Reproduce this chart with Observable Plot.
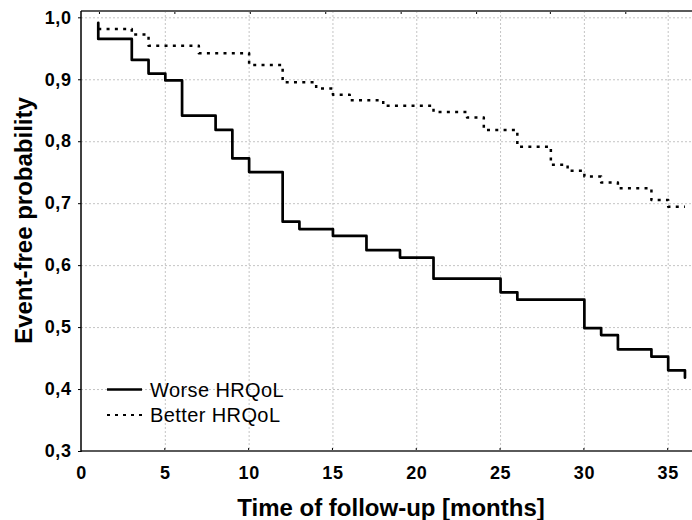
<!DOCTYPE html>
<html><head><meta charset="utf-8">
<script src="https://cdn.jsdelivr.net/npm/d3@7"></script>
<script src="https://cdn.jsdelivr.net/npm/@observablehq/plot@0.6"></script>
<style>
html,body{margin:0;padding:0;background:#fff}
#chart svg{display:block}
</style>
</head><body><div id="chart"></div>
<script>
// ---- data ----
const worseTime  = [1, 1, 3, 4, 5, 6, 8, 9, 10, 12, 13, 15, 17, 19, 21, 25, 26, 30, 31, 32, 34, 35, 36];
const worseProb  = [0.992, 0.966, 0.932, 0.910, 0.899, 0.842, 0.819, 0.773, 0.751, 0.671, 0.659, 0.648, 0.625, 0.613, 0.579, 0.557, 0.545, 0.499, 0.488, 0.465, 0.453, 0.431, 0.419];
const betterTime = [1, 3, 4, 7, 10, 12, 14, 15, 16, 18, 21, 23, 24, 26, 28, 29, 30, 31, 32, 34, 35, 36];
const betterProb = [0.982, 0.973, 0.955, 0.943, 0.924, 0.896, 0.886, 0.876, 0.867, 0.858, 0.848, 0.839, 0.819, 0.792, 0.763, 0.753, 0.744, 0.734, 0.725, 0.706, 0.695, 0.695];
const seriesNames = ["Worse HRQoL", "Better HRQoL"];
const xTicks = [0, 5, 10, 15, 20, 25, 30, 35];
const yTicks = [0.3, 0.4, 0.5, 0.6, 0.7, 0.8, 0.9, 1.0];
const topTicks = [1.1, 5.6, 10.1, 14.6, 19.1, 23.6, 28.0, 32.5];
const xTitle = "Time of follow-up [months]";
const yTitle = "Event-free probability";

const worse = worseTime.map((t, i) => ({t, p: worseProb[i]}));
const better = betterTime.map((t, i) => ({t, p: betterProb[i]}));

const FONT = "'Liberation Sans', Arial, sans-serif";

function frameMark(index, scales, values, dims) {
  const {width, height, marginLeft, marginTop, marginBottom} = dims;
  const g = d3.create("svg:g");
  const yb = height - marginBottom, yt = marginTop;
  for (const v of xTicks.slice(1)) {
    const x = scales.x(v);
    g.append("line").attr("x1", x).attr("x2", x).attr("y1", yb).attr("y2", yb - 3).attr("stroke", "#000").attr("stroke-width", 1);
  }
  for (const v of topTicks) {
    const x = scales.x(v);
    g.append("line").attr("x1", x).attr("x2", x).attr("y1", yt).attr("y2", yt + 3).attr("stroke", "#000").attr("stroke-width", 1);
  }
  g.append("line").attr("x1", marginLeft).attr("x2", width).attr("y1", yt).attr("y2", yt).attr("stroke", "#5a5a5a").attr("stroke-width", 2);
  g.append("line").attr("x1", marginLeft).attr("x2", width).attr("y1", yb).attr("y2", yb).attr("stroke", "#5a5a5a").attr("stroke-width", 2);
  g.append("line").attr("x1", marginLeft).attr("x2", marginLeft).attr("y1", yt).attr("y2", yb + 1).attr("stroke", "#000").attr("stroke-width", 1.5);
  return g.node();
}

function legendMark(index, scales, values, dims) {
  const g = d3.create("svg:g");
  const x0 = dims.marginLeft + 26, x1 = dims.marginLeft + 61, xt = dims.marginLeft + 69;
  seriesNames.forEach((name, i) => {
    const y = 389.5 + i * 25.5;
    g.append("line").attr("x1", x0).attr("x2", x1).attr("y1", y).attr("y2", y)
      .attr("stroke", "#000").attr("stroke-width", i === 0 ? 2.5 : 2)
      .attr("stroke-dasharray", i === 0 ? null : "3,5");
    g.append("text").attr("x", xt).attr("y", y).attr("dy", "0.36em")
      .attr("text-anchor", "start")
      .attr("font-size", 20).attr("font-family", FONT).attr("fill", "#000")
      .style("letter-spacing", "0.4px")
      .text(name);
  });
  return g.node();
}

const plot = Plot.plot({
  width: 692, height: 520,
  marginLeft: 81, marginRight: 0, marginTop: 11, marginBottom: 69,
  x: {domain: [0, 36.45]},
  y: {domain: [0.3, 1.0102]},
  style: {fontFamily: FONT, background: "#fff", color: "#000"},
  marks: [
    Plot.gridX(xTicks.slice(1), {stroke: "#c4c4c4", strokeOpacity: 1, strokeWidth: 1, strokeDasharray: "2,2"}),
    Plot.gridY(yTicks.slice(1), {stroke: "#c4c4c4", strokeOpacity: 1, strokeWidth: 1, strokeDasharray: "2,2"}),
    Plot.axisX(xTicks, {anchor: "bottom", tickSize: 0, tickPadding: 15, tickFormat: d => String(d), fontSize: 18, fontWeight: "bold", label: null}),
    Plot.axisY(yTicks, {anchor: "left", tickSize: 3, tickPadding: 7, tickFormat: d => d.toFixed(1).replace(".", ","), fontSize: 18, fontWeight: "bold", label: null}),
    frameMark,
    Plot.line(better, {x: "t", y: "p", curve: "step-after", stroke: "#000", strokeWidth: 2.5, strokeDasharray: "3,5.3", strokeLinecap: "butt"}),
    Plot.line(worse, {x: "t", y: "p", curve: "step-after", stroke: "#000", strokeWidth: 2.7}),
    legendMark,
    Plot.text([xTitle], {text: d => d, frameAnchor: "bottom", textAnchor: "middle", lineAnchor: "middle", dx: 4, dy: 57, fontSize: 24, fontWeight: "bold", ariaLabel: "x-title"}),
    Plot.text([yTitle], {text: d => d, frameAnchor: "left", textAnchor: "middle", lineAnchor: "middle", dx: -57, dy: -11, rotate: -90, fontSize: 24, fontWeight: "bold", ariaLabel: "y-title"})
  ]
});
const s = d3.select(plot);
s.selectAll('g[aria-label="x-axis tick label"] text, g[aria-label="y-axis tick label"] text').style("letter-spacing", "0.6px");
s.selectAll('g[aria-label="x-title"] text').style("letter-spacing", "2.8px");
s.selectAll('g[aria-label="y-title"] text').style("letter-spacing", "2.6px");
document.getElementById("chart").append(plot);
</script>
</body></html>
